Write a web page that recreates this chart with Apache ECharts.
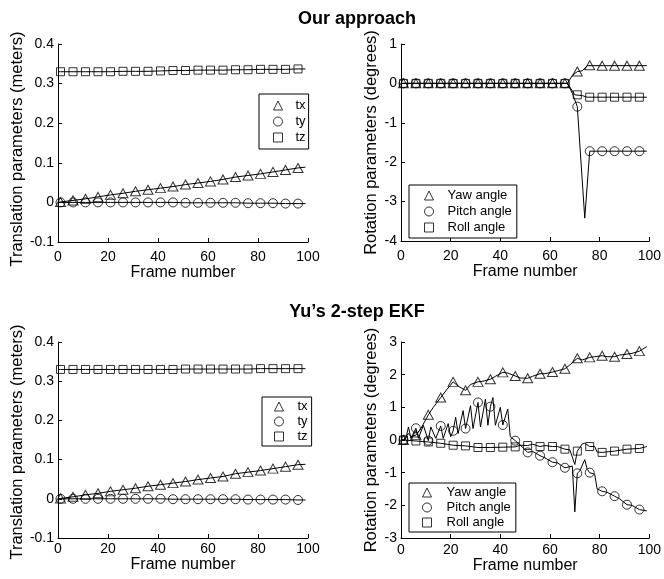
<!DOCTYPE html>
<html><head><meta charset="utf-8">
<script src="https://cdn.jsdelivr.net/npm/echarts@6/dist/echarts.min.js"></script>
<style>html,body{margin:0;padding:0;background:#fff}#c{width:664px;height:579px}</style>
</head><body><div id="c"></div>
<script>
// ---------- DATA ----------
const markerFrames = [1,6,11,16,21,26,31,36,41,46,51,56,61,66,71,76,81,86,91,96];

// Our approach: translation (meters)
const ourTx = [0.001,0.005,0.009,0.014,0.019,0.023,0.028,0.032,0.036,0.040,0.045,0.049,0.053,0.058,0.064,0.068,0.072,0.077,0.082,0.087];
const ourTy = [0,0,0,0,0,0,0,0,0,0,-0.001,-0.001,-0.001,-0.001,-0.001,-0.002,-0.002,-0.002,-0.003,-0.003];
const ourTz = [0.330,0.330,0.330,0.330,0.330,0.331,0.331,0.331,0.332,0.333,0.333,0.334,0.334,0.334,0.335,0.335,0.336,0.336,0.336,0.337];
const ourTxEnds = [0.000, 0.089];   // line value at frame 0 and frame 99
const ourTyEnds = [0.000, -0.003];
const ourTzEnds = [0.330, 0.337];

// Our approach: rotation (degrees)
const ourYaw   = [0,0,0,0,0,0,0,0,0,0,0,0,0,0,0.30,0.46,0.45,0.45,0.45,0.45];
const ourPitch = [0,0,0,0,0,0,0,0,0,0,0,0,0,0,-0.59,-1.72,-1.72,-1.72,-1.72,-1.72];
const ourRoll  = [0,0,0,0,0,0,0,0,0,0,0,0,0,0,-0.29,-0.35,-0.35,-0.35,-0.35,-0.35];
const ourYawLine   = [[0,0],[67,0],[69,0.2],[71,0.3],[73,0.32],[75,0.45],[99,0.45]];
const ourPitchLine = [[0,0],[67,0],[69,-0.25],[71,-0.59],[74,-3.42],[76,-1.72],[99,-1.72]];
const ourRollLine  = [[0,0],[67,0],[70,-0.29],[73,-0.31],[75,-0.35],[99,-0.35]];

// Yu's 2-step EKF: translation (meters)
const yuTx = [0.001,0.005,0.010,0.014,0.019,0.023,0.027,0.032,0.036,0.040,0.044,0.049,0.053,0.057,0.064,0.068,0.072,0.077,0.082,0.087];
const yuTy = [0,0,0,0,0,0,0,0,0,-0.001,-0.001,-0.001,-0.001,-0.001,-0.001,-0.002,-0.002,-0.002,-0.002,-0.003];
const yuTz = [0.330,0.330,0.330,0.330,0.330,0.330,0.330,0.330,0.330,0.330,0.331,0.331,0.331,0.331,0.331,0.331,0.332,0.332,0.332,0.332];
const yuTxEnds = [0.000, 0.088];
const yuTyEnds = [0.000, -0.003];
const yuTzEnds = [0.330, 0.332];

// Yu's 2-step EKF: rotation (degrees)
const yuYaw   = [0.00,0.15,0.77,1.30,1.78,1.52,1.78,1.86,2.07,1.96,1.89,2.03,2.08,2.18,2.50,2.53,2.58,2.55,2.63,2.72];
const yuPitch = [0.00,0.36,-0.02,0.43,0.28,0.35,1.15,1.02,0.46,-0.02,-0.38,-0.48,-0.68,-0.85,-1.02,-1.00,-1.57,-1.72,-1.98,-2.13];
const yuRoll  = [0.00,-0.03,-0.06,-0.10,-0.16,-0.18,-0.23,-0.23,-0.22,-0.21,-0.17,-0.20,-0.20,-0.28,-0.34,-0.20,-0.38,-0.34,-0.28,-0.26];
const yuYawLine = [[0,0],[1,0],[3,0.2],[4,0.1],[6,0.15],[8,0.35],[11,0.77],[13,1.0],[16,1.3],[18,1.5],[21,1.78],[23,1.65],[26,1.52],[28,1.7],[31,1.78],[33,1.8],[36,1.86],[38,1.95],[41,2.07],[43,2.05],[46,1.96],[48,1.9],[51,1.89],[53,1.95],[56,2.03],[58,2.03],[61,2.08],[63,2.12],[66,2.18],[68,2.3],[71,2.5],[73,2.45],[76,2.53],[78,2.55],[81,2.58],[83,2.55],[86,2.55],[88,2.6],[91,2.63],[93,2.65],[96,2.72],[99,2.86]];
const yuPitchLine = [[0,0],[1,0],[2,0.05],[3,0.4],[4,0.05],[6,0.36],[7,0.05],[9,0.45],[11,-0.02],[12,0.4],[14,0.05],[16,0.43],[17,0.05],[19,0.5],[20,0.1],[21,0.28],[22,0.7],[23,0.2],[25,0.9],[26,0.35],[28,1.05],[29,0.35],[31,1.15],[32,0.4],[34,1.25],[35,0.45],[36,1.02],[37,1.3],[38,0.45],[40,1.0],[41,0.46],[43,0.95],[44,0.1],[46,-0.02],[48,-0.15],[51,-0.38],[53,-0.35],[56,-0.48],[58,-0.55],[61,-0.68],[63,-0.7],[66,-0.85],[69,-0.8],[70,-2.2],[71,-1.02],[72,-0.95],[74,-0.6],[75,-0.9],[76,-1.0],[78,-1.05],[79,-1.5],[81,-1.57],[83,-1.6],[86,-1.72],[88,-1.8],[91,-1.98],[93,-2.0],[96,-2.13],[99,-2.17]];
const yuRollLine = [[0,0],[1,0],[6,-0.03],[11,-0.06],[16,-0.10],[21,-0.16],[26,-0.18],[31,-0.23],[36,-0.23],[41,-0.22],[46,-0.21],[48,-0.16],[51,-0.17],[53,-0.13],[56,-0.2],[58,-0.17],[61,-0.2],[63,-0.2],[66,-0.28],[68,-0.3],[70,-0.75],[71,-0.34],[73,-0.12],[74,-0.1],[76,-0.2],[78,-0.2],[79,-0.37],[81,-0.38],[86,-0.34],[91,-0.28],[96,-0.26],[99,-0.2]];

const xTicks = {min:0, max:100, interval:20};
const transTicks = {min:-0.1, max:0.4, interval:0.1};
const rotTicksOur = {min:-4, max:1, interval:1};
const rotTicksYu = {min:-3, max:3, interval:1};

const titles = ['Our approach', "Yu\u2019s 2-step EKF"];
const transName = 'Translation parameters (meters)';
const rotName = 'Rotation parameters (degrees)';
const frameName = 'Frame number';
const transLegend = ['tx','ty','tz'];
const rotLegend = ['Yaw angle','Pitch angle','Roll angle'];

// ---------- CHART ----------
const FONT = 'Liberation Sans, Arial, Helvetica, sans-serif';
const chart = echarts.init(document.getElementById('c'), null, {renderer:'canvas'});

const grids = [
  {left:58, top:44, width:250, height:198},
  {left:401, top:44, width:251, height:197},
  {left:58, top:342, width:250, height:196},
  {left:401, top:342, width:251, height:196}
];
const xLabelMargin = [8,8,4,5];
const xNameGap = [21,21,17,17];
const yNameGap = [32,21,30,21];
const yNameShift = [12,0,4,0];
const yTicks = [transTicks, rotTicksOur, transTicks, rotTicksYu];
const yNames = [transName, rotName, transName, rotName];

const axisCommon = {
  axisLine:{onZero:false, lineStyle:{color:'#000', width:1}},
  axisTick:{inside:true, length:4, lineStyle:{color:'#000'}},
  splitLine:{show:false}
};

const xAxis = grids.map((g,i)=>Object.assign({
  gridIndex:i, type:'value', min:xTicks.min, max:xTicks.max, interval:xTicks.interval,
  name:frameName, nameLocation:'middle', nameGap:xNameGap[i],
  nameTextStyle:{fontSize:16, color:'#000', fontFamily:FONT},
  axisLabel:{fontSize:14, color:'#000', fontFamily:FONT, margin:xLabelMargin[i]}
}, axisCommon));
const yAxis = grids.map((g,i)=>Object.assign({
  gridIndex:i, type:'value', min:yTicks[i].min, max:yTicks[i].max, interval:yTicks[i].interval,
  name:yNames[i], nameLocation:'middle', nameGap:yNameGap[i], nameRotate:90,
  nameTextStyle:{fontSize:16.5, color:'#000', fontFamily:FONT, padding:[0, yNameShift[i], 0, 0]},
  axisLabel:{fontSize:14, color:'#000', fontFamily:FONT, margin:4}
}, axisCommon));

const symbols = {triangle:{symbol:'triangle', size:[10,9]}, circle:{symbol:'circle', size:9}, rect:{symbol:'rect', size:8}};
const series = [];
function addLine(idx, data){
  series.push({type:'line', xAxisIndex:idx, yAxisIndex:idx, data:data, showSymbol:false, symbol:'none',
    lineStyle:{color:'#000', width:1}, itemStyle:{color:'#000'}, silent:true, z:2});
}
function addMarkers(idx, name, vals, sym){
  series.push({type:'scatter', name:name, xAxisIndex:idx, yAxisIndex:idx,
    data:markerFrames.map((f,k)=>[f, vals[k]]),
    symbol:symbols[sym].symbol, symbolSize:symbols[sym].size,
    itemStyle:{color:'transparent', borderColor:'#000', borderWidth:1}, silent:true, z:3});
}
function transLine(vals, ends){
  return [[0, ends[0]]].concat(markerFrames.map((f,k)=>[f, vals[k]])).concat([[99, ends[1]]]);
}
// panel 0
addLine(0, transLine(ourTx, ourTxEnds)); addLine(0, transLine(ourTy, ourTyEnds)); addLine(0, transLine(ourTz, ourTzEnds));
addMarkers(0, 'tx', ourTx, 'triangle'); addMarkers(0, 'ty', ourTy, 'circle'); addMarkers(0, 'tz', ourTz, 'rect');
// panel 1
addLine(1, ourYawLine); addLine(1, ourPitchLine); addLine(1, ourRollLine);
addMarkers(1, 'Yaw angle', ourYaw, 'triangle'); addMarkers(1, 'Pitch angle', ourPitch, 'circle'); addMarkers(1, 'Roll angle', ourRoll, 'rect');
// panel 2
addLine(2, transLine(yuTx, yuTxEnds)); addLine(2, transLine(yuTy, yuTyEnds)); addLine(2, transLine(yuTz, yuTzEnds));
addMarkers(2, 'tx', yuTx, 'triangle'); addMarkers(2, 'ty', yuTy, 'circle'); addMarkers(2, 'tz', yuTz, 'rect');
// panel 3
addLine(3, yuYawLine); addLine(3, yuPitchLine); addLine(3, yuRollLine);
addMarkers(3, 'Yaw angle', yuYaw, 'triangle'); addMarkers(3, 'Pitch angle', yuPitch, 'circle'); addMarkers(3, 'Roll angle', yuRoll, 'rect');

const icons = ['triangle','circle','rect'];
function legendFor(names, left, top, padding, itemGap, textPad){
  return {
    data:names.map((n,k)=>({name:n, icon:icons[k]})),
    orient:'vertical', left:left, top:top, padding:padding, itemGap:itemGap,
    itemWidth:9, itemHeight:9, symbolKeepAspect:true, selectedMode:false,
    borderColor:'#000', borderWidth:1, backgroundColor:'#fff',
    itemStyle:{color:'transparent', borderColor:'#000', borderWidth:1},
    textStyle:{fontSize:13, color:'#000', fontFamily:FONT, padding:[0,0,0,textPad]}
  };
}

const option = {
  animation:false,
  backgroundColor:'#fff',
  grid:grids,
  xAxis:xAxis,
  yAxis:yAxis,
  series:series,
  legend:[
    legendFor(transLegend, 259, 94, [5,3,5,14], 3, 8),
    legendFor(rotLegend, 409, 185, [4,5,4,15], 3, 9),
    legendFor(transLegend, 262, 397, [3,4,3,12], 2, 9),
    legendFor(rotLegend, 409, 483, [3,5,3,13], 2, 10)
  ],
  graphic:[
    {type:'text', x:357, y:19, style:{text:titles[0], fontSize:18, fontWeight:'bold', fontFamily:FONT, fill:'#000', align:'center', verticalAlign:'middle', textAlign:'center', textVerticalAlign:'middle'}},
    {type:'text', x:357, y:312, style:{text:titles[1], fontSize:18, fontWeight:'bold', fontFamily:FONT, fill:'#000', align:'center', verticalAlign:'middle', textAlign:'center', textVerticalAlign:'middle'}}
  ]
};
chart.setOption(option);
</script>
</body></html>
